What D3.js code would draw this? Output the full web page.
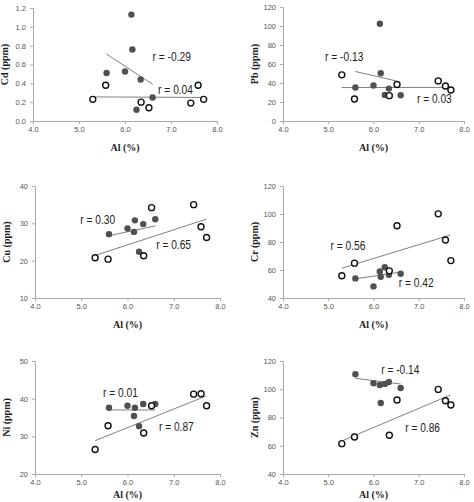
<!DOCTYPE html>
<html>
<head>
<meta charset="utf-8">
<script src="https://cdn.jsdelivr.net/npm/d3@7"></script>
<style>
  body { margin: 0; background: #fff; }
  .tick text { font-family: "Liberation Sans", Arial, sans-serif; font-size: 7.5px; fill: #555; }
  .axis-title { font-family: "Liberation Serif", "Times New Roman", serif; font-weight: bold; font-size: 10px; fill: #222; }
  .r-label { font-family: "Liberation Sans", Arial, sans-serif; font-size: 12px; fill: #222; }
</style>
</head>
<body>
<div id="chart"></div>
<script>
// Al (%) values shared by every panel
const alFilled = [5.6, 6.0, 6.14, 6.16, 6.25, 6.34, 6.6];
const alOpen = [5.3, 5.58, 6.35, 6.52, 7.43, 7.59, 7.71];

// element names, y ranges and ticks
const elements = ["Cd", "Pb", "Cu", "Cr", "Ni", "Zn"];
const yDomains = [[0, 1.2], [0, 120], [10, 40], [40, 120], [20, 50], [40, 120]];
const yTicks = [
  [0, 0.2, 0.4, 0.6, 0.8, 1.0, 1.2],
  [0, 20, 40, 60, 80, 100, 120],
  [10, 20, 30, 40],
  [40, 60, 80, 100, 120],
  [20, 30, 40, 50],
  [40, 60, 80, 100, 120]
];
const xTicks = [4, 5, 6, 7, 8];

// concentrations (ppm), filled group and open group
const cdFilled = [0.51, 0.525, 1.13, 0.76, 0.12, 0.44, 0.25];
const cdOpen = [0.23, 0.38, 0.20, 0.14, 0.19, 0.38, 0.23];
const pbFilled = [35.2, 37.3, 102.4, 50.3, 27.4, 34.1, 27.1];
const pbOpen = [48.6, 23.2, 26.7, 38.4, 42.2, 36.9, 32.7];
const cuFilled = [27.1, 28.6, 27.7, 30.8, 22.4, 29.8, 31.1];
const cuOpen = [20.8, 20.4, 21.3, 34.2, 35.0, 29.1, 26.2];
const crFilled = [54.0, 48.3, 58.9, 55.1, 62.0, 56.6, 57.3];
const crOpen = [55.9, 64.9, 59.4, 91.6, 100.1, 81.4, 66.7];
const niFilled = [37.6, 38.1, 35.4, 37.6, 32.7, 38.6, 38.6];
const niOpen = [26.5, 32.8, 30.9, 38.1, 41.2, 41.3, 38.1];
const znFilled = [110.6, 104.2, 103.0, 90.3, 103.8, 105.1, 100.9];
const znOpen = [61.5, 66.2, 67.4, 92.4, 99.9, 91.9, 88.8];

// trend line end points [x1, y1, x2, y2]
const fitFilled = [[5.6, 0.71, 6.6, 0.39], [5.6, 52.1, 6.5, 42.2], [5.6, 26.7, 6.6, 29.3],
                   [5.6, 53.7, 6.6, 58.5], [5.6, 37.0, 6.6, 37.0], [5.6, 107.7, 6.6, 103.7]];
const fitOpen = [[5.3, 0.256, 7.7, 0.25], [5.3, 35.2, 7.7, 35.4], [5.3, 21.4, 7.7, 31.1],
                 [5.3, 61.3, 7.7, 85.0], [5.3, 28.85, 7.7, 40.7], [5.3, 63.4, 7.7, 95.9]];

// correlation coefficients
const rFilled = ["r = -0.29", "r = -0.13", "r = 0.30", "r = 0.42", "r = 0.01", "r = -0.14"];
const rOpen = ["r = 0.04", "r = 0.03", "r = 0.65", "r = 0.56", "r = 0.87", "r = 0.86"];

const filledSets = [cdFilled, pbFilled, cuFilled, crFilled, niFilled, znFilled];
const openSets = [cdOpen, pbOpen, cuOpen, crOpen, niOpen, znOpen];

// layout: plot box of each panel, in pixels
const boxes = [
  { left: 33, right: 217, top: 8, bottom: 121 },
  { left: 283, right: 464, top: 7, bottom: 121 },
  { left: 35, right: 220, top: 186, bottom: 298 },
  { left: 283, right: 464, top: 186, bottom: 298 },
  { left: 35, right: 220, top: 361, bottom: 474 },
  { left: 283, right: 464, top: 361, bottom: 474 }
];
// where the r labels sit, in data units
const rFilledPos = [[6.6, 0.64], [4.93, 63], [4.98, 29.8], [6.56, 48], [5.47, 40.4], [6.17, 110.5]];
const rOpenPos = [[6.72, 0.29], [6.96, 19], [6.62, 23], [5.05, 74], [6.68, 31.3], [6.7, 70]];

const svg = d3.select("#chart")
  .append("svg")
  .attr("width", 474)
  .attr("height", 502);

elements.forEach((el, i) => {
  const b = boxes[i];

  const x = d3.scaleLinear().domain([4, 8]).range([b.left, b.right]);
  const y = d3.scaleLinear().domain(yDomains[i]).range([b.bottom, b.top]);
  const fmt = i === 0 ? d3.format(".1f") : d3.format("d");

  const g = svg.append("g");

  // x axis
  const xAxis = g.append("g")
    .attr("transform", `translate(0,${b.bottom})`)
    .call(d3.axisBottom(x).tickValues(xTicks).tickFormat(d3.format(".1f")).tickSize(3).tickPadding(3));
  // y axis
  const yAxis = g.append("g")
    .attr("transform", `translate(${b.left},0)`)
    .call(d3.axisLeft(y).tickValues(yTicks[i]).tickFormat(fmt).tickSize(3).tickPadding(4));
  [xAxis, yAxis].forEach(a => {
    a.selectAll("path, line").attr("stroke", "#aaa");
  });

  // axis titles (bottom row pulled up a little so it stays inside the page)
  g.append("text")
    .attr("class", "axis-title")
    .attr("x", (b.left + b.right) / 2)
    .attr("y", Math.min(b.bottom + 30, 498))
    .attr("text-anchor", "middle")
    .text("Al (%)");
  g.append("text")
    .attr("class", "axis-title")
    .attr("transform", `translate(${b.left - 25},${(b.top + b.bottom) / 2}) rotate(-90)`)
    .attr("text-anchor", "middle")
    .text(`${el} (ppm)`);

  // trend lines
  [fitFilled[i], fitOpen[i]].forEach(f => {
    g.append("line")
      .attr("x1", x(f[0])).attr("y1", y(f[1]))
      .attr("x2", x(f[2])).attr("y2", y(f[3]))
      .attr("stroke", "#808080")
      .attr("stroke-width", 1);
  });

  // filled points
  g.selectAll(".filled")
    .data(filledSets[i].map((v, k) => [alFilled[k], v]))
    .enter()
    .append("circle")
    .attr("cx", d => x(d[0]))
    .attr("cy", d => y(d[1]))
    .attr("r", 3.2)
    .attr("fill", "#505050");

  // open points
  g.selectAll(".open")
    .data(openSets[i].map((v, k) => [alOpen[k], v]))
    .enter()
    .append("circle")
    .attr("cx", d => x(d[0]))
    .attr("cy", d => y(d[1]))
    .attr("r", 3)
    .attr("fill", "#fff")
    .attr("stroke", "#111")
    .attr("stroke-width", 1.4);

  // r labels (the source lettering is narrow, so squeeze horizontally)
  [[rFilled[i], rFilledPos[i]], [rOpen[i], rOpenPos[i]]].forEach(([txt, pos]) => {
    g.append("text")
      .attr("class", "r-label")
      .attr("transform", `translate(${x(pos[0])},${y(pos[1])}) scale(0.85,1)`)
      .text(txt);
  });
});
</script>
</body>
</html>
